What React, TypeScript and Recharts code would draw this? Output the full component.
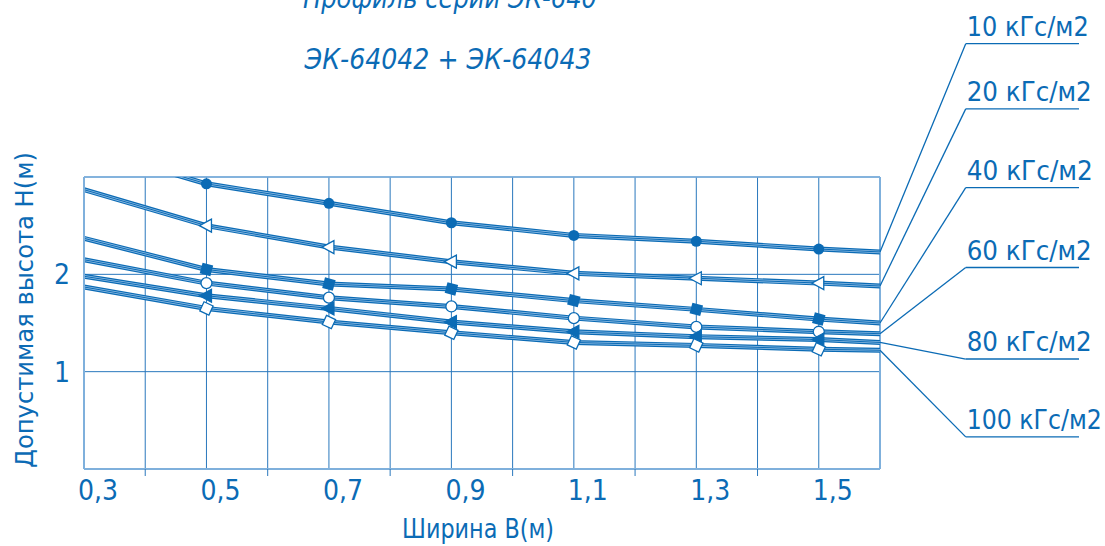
import React from "react";
import { CartesianGrid, Line, LineChart, ReferenceLine, XAxis, YAxis } from "recharts";

const widths = [0.3, 0.5, 0.7, 0.9, 1.1, 1.3, 1.5, 1.6];
const markerWidths = [0.5, 0.7, 0.9, 1.1, 1.3, 1.5];

const h10 = [3.3, 2.93, 2.73, 2.53, 2.4, 2.34, 2.26, 2.23];
const h20 = [2.87, 2.5, 2.28, 2.13, 2.01, 1.96, 1.91, 1.88];
const h40 = [2.37, 2.05, 1.9, 1.85, 1.73, 1.64, 1.54, 1.5];
const h60 = [2.15, 1.91, 1.76, 1.67, 1.55, 1.46, 1.41, 1.39];
const h80 = [1.98, 1.78, 1.65, 1.51, 1.41, 1.36, 1.33, 1.3];
const h100 = [1.87, 1.65, 1.51, 1.4, 1.3, 1.27, 1.23, 1.22];

const xTicks = [0.3, 0.4, 0.5, 0.6, 0.7, 0.8, 0.9, 1.0, 1.1, 1.2, 1.3, 1.4, 1.5, 1.6];
const xLabels = [0.3, 0.5, 0.7, 0.9, 1.1, 1.3, 1.5];
const yTicks = [0, 1, 2, 3];
const yLabels = [1, 2];

const loadLabels = ["10 кГс/м2", "20 кГс/м2", "40 кГс/м2", "60 кГс/м2", "80 кГс/м2", "100 кГс/м2"];
// heights (in chart units) of the underlined callout labels on the right
const calloutY = [4.37, 3.7, 2.89, 2.07, 1.13, 0.33];
const calloutTextWidth = [122, 125, 126, 125, 125, 135];

const BLUE = "#0b6bb5";
const STRIPE = "#8dbbe3";
const GRID = "#2a78bd";
const EDGE = "#7fb0dc";
const FONT = "'Liberation Sans Narrow', 'DejaVu Sans Condensed', 'Liberation Sans', sans-serif";

const data = widths.map((w, i) => ({
  w,
  s10: h10[i],
  s20: h20[i],
  s40: h40[i],
  s60: h60[i],
  s80: h80[i],
  s100: h100[i],
}));

const series = [
  { key: "s10", marker: "disc", values: h10 },
  { key: "s20", marker: "triOpen", values: h20 },
  { key: "s40", marker: "squareFilled", values: h40 },
  { key: "s60", marker: "ring", values: h60 },
  { key: "s80", marker: "triFilled", values: h80 },
  { key: "s100", marker: "diamondOpen", values: h100 },
];

const near = (list: number[], v: number) => list.some((l) => Math.abs(l - v) < 1e-6);

function Marker({ cx, cy, payload, kind }: any) {
  if (cx == null || cy == null || !payload || !near(markerWidths, payload.w)) return <g />;
  switch (kind) {
    case "disc":
      return <circle cx={cx} cy={cy} r={5.5} fill={BLUE} />;
    case "ring":
      return <circle cx={cx} cy={cy} r={5.5} fill="#fff" stroke={BLUE} strokeWidth={1.3} />;
    case "triOpen":
    case "triFilled":
      return (
        <polygon
          points={`${cx - 7},${cy} ${cx + 5},${cy - 6.5} ${cx + 5},${cy + 6.5}`}
          fill={kind === "triOpen" ? "#fff" : BLUE}
          stroke={BLUE}
          strokeWidth={1.3}
        />
      );
    case "squareFilled":
      return <rect x={cx - 5.5} y={cy - 5.5} width={11} height={11} fill={BLUE} transform={`rotate(15 ${cx} ${cy})`} />;
    case "diamondOpen":
      return (
        <rect
          x={cx - 5}
          y={cy - 5}
          width={10}
          height={10}
          fill="#fff"
          stroke={BLUE}
          strokeWidth={1.3}
          transform={`rotate(25 ${cx} ${cy})`}
        />
      );
    default:
      return <g />;
  }
}

function XTick({ x, y, payload }: any) {
  const v = payload.value;
  if (near(xLabels, v)) {
    return (
      <text x={x - 6} y={y + 31} fill={BLUE} fontFamily={FONT} fontSize={28}>
        {v.toFixed(1).replace(".", ",")}
      </text>
    );
  }
  if (v > 0.31 && v < 1.59) return <line x1={x} x2={x} y1={y} y2={y + 7} stroke={GRID} strokeWidth={1} />;
  return <g />;
}

function YTick({ x, y, payload }: any) {
  if (!near(yLabels, payload.value)) return <g />;
  return (
    <text x={x - 14} y={y + 10} textAnchor="end" fill={BLUE} fontFamily={FONT} fontSize={28}>
      {payload.value}
    </text>
  );
}

function CalloutText({ viewBox, text, width }: any) {
  if (!viewBox) return null;
  return (
    <text x={viewBox.x + 1} y={viewBox.y - 8} fill={BLUE} fontFamily={FONT} fontSize={26} textLength={width} lengthAdjust="spacingAndGlyphs">
      {text}
    </text>
  );
}

export default function App() {
  return (
    <div style={{ position: "absolute", left: 0, top: 0, width: 1105, height: 546, background: "#fff" }}>
      <LineChart width={1105} height={546} data={data} margin={{ top: 177, right: 225, left: 54, bottom: 37 }}>
        <CartesianGrid stroke={GRID} strokeWidth={1} />
        <XAxis
          dataKey="w"
          type="number"
          domain={[0.3, 1.6]}
          ticks={xTicks}
          interval={0}
          height={40}
          tickLine={false}
          tickSize={0}
          tickMargin={0}
          axisLine={{ stroke: EDGE, strokeWidth: 2 }}
          tick={<XTick />}
        />
        <YAxis
          type="number"
          domain={[0, 3]}
          ticks={yTicks}
          interval={0}
          allowDataOverflow
          width={30}
          tickLine={false}
          tickSize={0}
          tickMargin={0}
          axisLine={{ stroke: EDGE, strokeWidth: 2 }}
          tick={<YTick />}
        />
        <ReferenceLine x={1.6} stroke={EDGE} strokeWidth={2} />
        <ReferenceLine y={3} stroke={EDGE} strokeWidth={1.5} />

        {series.map((s) => (
          <Line key={s.key + "-base"} dataKey={s.key} stroke={BLUE} strokeWidth={5} dot={false} activeDot={false} isAnimationActive={false} />
        ))}
        {series.map((s) => (
          <Line key={s.key + "-stripe"} dataKey={s.key} stroke={STRIPE} strokeWidth={2.6} dot={false} activeDot={false} isAnimationActive={false} />
        ))}
        {series.map((s) => (
          <Line key={s.key + "-core"} dataKey={s.key} stroke={BLUE} strokeWidth={1} dot={false} activeDot={false} isAnimationActive={false} />
        ))}
        {series.map((s) => (
          <Line
            key={s.key + "-marks"}
            dataKey={s.key}
            stroke="none"
            activeDot={false}
            isAnimationActive={false}
            dot={(p: any) => <Marker key={`${s.key}-${p.index}`} cx={p.cx} cy={p.cy} payload={p.payload} kind={s.marker} />}
          />
        ))}

        {series.map((s, i) => (
          <ReferenceLine
            key={s.key + "-leader"}
            ifOverflow="visible"
            stroke={BLUE}
            strokeWidth={1.3}
            segment={[
              { x: 1.6, y: s.values[s.values.length - 1] },
              { x: 1.74, y: calloutY[i] },
            ]}
          />
        ))}
        {series.map((s, i) => (
          <ReferenceLine
            key={s.key + "-underline"}
            ifOverflow="visible"
            stroke={BLUE}
            strokeWidth={1.3}
            segment={[
              { x: 1.74, y: calloutY[i] },
              { x: 1.925, y: calloutY[i] },
            ]}
            label={<CalloutText text={loadLabels[i]} width={calloutTextWidth[i]} />}
          />
        ))}
      </LineChart>

      <svg width={1105} height={546} style={{ position: "absolute", left: 0, top: 0, pointerEvents: "none" }}>
        <g fill={BLUE} fontFamily={FONT}>
          <text x={450} y={8} fontSize={28} fontStyle="italic" textAnchor="middle" textLength={294} lengthAdjust="spacingAndGlyphs">
            Профиль серии ЭК-640
          </text>
          <text x={448} y={69} fontSize={28} fontStyle="italic" textAnchor="middle" textLength={287} lengthAdjust="spacingAndGlyphs">
            ЭК-64042 + ЭК-64043
          </text>
          <text
            x={0}
            y={0}
            fontSize={25}
            textAnchor="middle"
            textLength={316}
            lengthAdjust="spacingAndGlyphs"
            transform="translate(33 310) rotate(-90)"
          >
            Допустимая высота H(м)
          </text>
          <text x={478} y={538} fontSize={26} textAnchor="middle" textLength={152} lengthAdjust="spacingAndGlyphs">
            Ширина B(м)
          </text>
        </g>
      </svg>
    </div>
  );
}
